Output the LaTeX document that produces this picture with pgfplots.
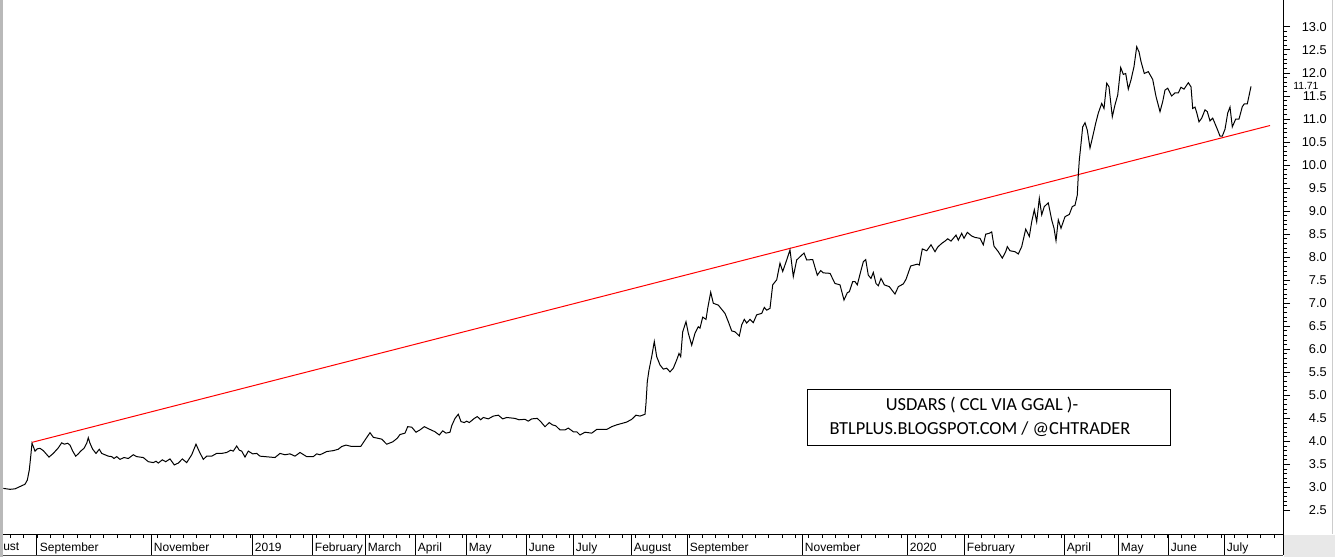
\documentclass[border=0pt]{standalone}
\usepackage{pgfplots}
\pgfplotsset{compat=1.18}
\usepackage{fontspec}
\setmainfont{Liberation Sans}
\newfontfamily\boxfont{Carlito}

\begin{document}
\begin{tikzpicture}
\begin{axis}[
  at={(0pt,0pt)}, anchor=south west,
  scale only axis, width=960pt, height=400.5pt,
  xmin=3, xmax=1283, ymin=1.9897, ymax=13.5857,
  axis x line*=bottom, axis y line*=right,
  axis line style={-, black, line width=0.75pt},
  tick align=outside,
  tick style={black, line width=0.75pt},
  major tick length=5.25pt, minor tick length=3pt,
  xtick={37,151,252,312,365,415,466,526,573,631,687,802,907,964,1064,1118,1168,1224},
  xticklabels={September,November,2019,February,March,April,May,June,July,August,September,November,2020,February,April,May,June,July},
  xtick style={/pgfplots/major tick length=15.75pt},
  minor xtick={10.7,24,...,1280},
  ytick={2.5,3,3.5,4,4.5,5,5.5,6,6.5,7,7.5,8,8.5,9,9.5,10,10.5,11,11.5,12,12.5,13},
  minor y tick num=4,
  yticklabel pos=right,
  /pgf/number format/.cd, fixed, fixed zerofill, precision=1, assume math mode=true, /pgfplots/.cd,
  xticklabel style={anchor=base west, inner sep=0pt, xshift=2pt, yshift=-8pt, font=\fontsize{9}{10}\selectfont},
  yticklabel style={anchor=east, inner sep=0pt, xshift=27.75pt, font=\fontsize{9.6}{11}\selectfont},
  clip=false,
]
\addplot[red, line width=0.75pt] coordinates {(32,3.98) (1270,10.86)};
\addplot[black, line width=0.75pt] coordinates {
(3.3,2.98) (10,2.96) (15,2.97) (20,3.02) (25,3.07) (27.3,3.16) (29.3,3.38) (30.7,3.67) (32,3.96) (33.3,3.89)
(35,3.79) (37.3,3.84) (40,3.85) (43.3,3.80) (49,3.66) (53.3,3.74) (58.3,3.86) (61.7,3.97) (64.3,3.94) (67.7,3.96)
(70,3.92) (72.7,3.79) (75.7,3.68) (78.3,3.73) (80.7,3.79) (84,3.85) (86.7,3.96) (88.3,4.08) (90,3.96) (92.7,3.83)
(96,3.74) (99.3,3.83) (101.7,3.74) (105,3.71) (108.3,3.68) (111.7,3.67) (114,3.63) (116.7,3.67) (120,3.61) (124,3.65)
(128.3,3.63) (133.3,3.71) (136.7,3.67) (143.3,3.65) (148.3,3.56) (153.3,3.54) (156,3.57) (158.3,3.53) (162.3,3.60) (165.7,3.56)
(170,3.62) (174.3,3.49) (178.3,3.53) (182.3,3.62) (186.7,3.54) (191.7,3.71) (196,3.94) (199.3,3.78) (203.3,3.61) (206.7,3.68)
(211.7,3.68) (216.7,3.74) (221.7,3.74) (226.7,3.76) (230.7,3.81) (233.3,3.79) (236.7,3.90) (239.3,3.81) (241.7,3.79) (245,3.66)
(248.3,3.79) (252.7,3.73) (256.7,3.74) (260,3.68) (265,3.67) (270,3.66) (275,3.65) (280,3.74) (285,3.71) (290,3.73)
(295,3.68) (300,3.76) (306.7,3.67) (313.3,3.67) (316.7,3.73) (320,3.71) (326.7,3.78) (333.3,3.80) (338.3,3.83) (341.7,3.89)
(346,3.92) (351.7,3.89) (360.7,3.89) (365,4.03) (370,4.19) (373.3,4.09) (381.7,4.05) (386.7,3.94) (392.7,3.99) (397.3,4.07)
(400,4.15) (405,4.18) (407.7,4.32) (411.7,4.31) (416,4.20) (420,4.25) (424.3,4.32) (430,4.26) (435,4.21) (439.3,4.14)
(442.7,4.23) (446,4.18) (450,4.20) (451.7,4.34) (455,4.50) (458.3,4.59) (461,4.43) (464.3,4.41) (466.7,4.44) (469.3,4.41)
(474.3,4.50) (477.3,4.54) (480.7,4.47) (483.3,4.52) (488.3,4.49) (493.3,4.55) (498.3,4.57) (502.7,4.49) (506.7,4.52) (515,4.50)
(519,4.47) (525,4.48) (528.3,4.44) (531.7,4.49) (537.3,4.50) (540.7,4.43) (545,4.32) (549.3,4.41) (552.3,4.36) (555.7,4.34)
(560,4.25) (565,4.25) (568.3,4.29) (573.3,4.21) (576.7,4.21) (580,4.14) (585,4.20) (591.7,4.18) (596.7,4.26) (606.7,4.26)
(611.7,4.32) (616.7,4.36) (621.7,4.39) (626.7,4.42) (631.7,4.48) (636,4.57) (640,4.55) (645,4.59) (646,4.83) (647.3,5.30)
(649,5.55) (651.7,5.84) (654.3,6.17) (656.7,5.84) (660,5.66) (663.3,5.57) (666.7,5.59) (670,5.51) (673.3,5.59) (676.7,5.77)
(679,5.91) (680.7,5.84) (682.7,6.38) (686,6.60) (688.3,6.35) (691.7,6.09) (695,6.35) (698.3,6.49) (700,6.46) (702.7,6.70)
(706,6.65) (707.7,6.89) (710.7,7.24) (713.3,7.00) (718.3,6.96) (725,6.78) (728.3,6.60) (731.7,6.40) (735,6.38) (739.3,6.29)
(741.7,6.53) (744.3,6.65) (746.7,6.57) (750,6.65) (753.3,6.58) (756.7,6.75) (761.7,6.78) (764.3,6.91) (766.7,6.85) (770,6.89)
(772.7,7.40) (776.7,7.51) (780,7.87) (782.7,7.69) (786.7,7.94) (790,8.16) (793.3,7.58) (796.7,7.94) (800,8.01) (804,8.09)
(806.7,7.94) (812.7,7.95) (817.3,7.61) (820.7,7.71) (823.3,7.66) (830,7.65) (835,7.43) (840,7.40) (844,7.07) (847.3,7.23)
(849.3,7.25) (852.7,7.47) (855,7.47) (857.3,7.40) (860.7,7.69) (863.3,7.90) (865.7,7.95) (868.3,7.61) (871,7.54) (873.3,7.67)
(876,7.43) (878.3,7.38) (881,7.54) (884.3,7.40) (889.3,7.36) (895,7.20) (898.3,7.36) (903.3,7.42) (906,7.52) (910.7,7.81)
(917.3,7.85) (919.3,7.83) (922.3,8.18) (926.7,8.14) (931,8.27) (935,8.12) (937.7,8.22) (941.7,8.30) (945,8.35) (947.7,8.40)
(951,8.35) (956,8.48) (958.3,8.37) (961.7,8.52) (964,8.41) (967.3,8.54) (971.7,8.46) (975,8.43) (980,8.41) (983.3,8.27)
(985.7,8.50) (989.3,8.52) (991.7,8.55) (994,8.24) (998.3,8.12) (1002.3,7.98) (1005.7,8.12) (1007.3,8.23) (1010,8.14) (1015,8.12)
(1018.3,8.07) (1021.7,8.23) (1025.7,8.61) (1029.3,8.45) (1031.7,8.77) (1034.3,9.03) (1036.7,8.77) (1039.3,9.28) (1041.7,8.92) (1044.3,9.10)
(1048.3,9.18) (1051.7,8.81) (1054,8.63) (1056,8.36) (1058.3,8.81) (1061,8.63) (1065,8.88) (1069.3,8.93) (1072.3,9.10) (1075,9.13)
(1077.3,9.35) (1078.3,9.79) (1079.3,10.11) (1080.7,10.40) (1082.7,10.83) (1085,10.92) (1087.3,10.76) (1090,10.37) (1092.7,10.62) (1095.7,10.91)
(1098.3,11.13) (1101.7,11.34) (1104,11.23) (1106.7,11.78) (1109,11.70) (1112.3,11.05) (1115,11.31) (1117.7,11.52) (1120.7,12.12) (1123.3,11.97)
(1125.7,11.99) (1128.3,11.65) (1131,11.85) (1134,12.14) (1136.7,12.57) (1139,12.46) (1141,12.25) (1144.3,11.99) (1148.3,12.03) (1152.7,11.86)
(1156,11.49) (1160,11.16) (1162.7,11.38) (1165,11.63) (1167.7,11.67) (1171.7,11.50) (1175,11.57) (1178.3,11.57) (1181,11.69) (1184,11.65)
(1188.3,11.79) (1191,11.70) (1192.7,11.23) (1195,11.26) (1196.7,11.14) (1199,10.94) (1201.7,11.02) (1205,11.20) (1207.3,11.16) (1210,10.96)
(1212.7,11.02) (1217.3,10.78) (1220,10.63) (1222.3,10.63) (1225,10.78) (1227.7,11.13) (1230,11.26) (1232.3,10.83) (1235.7,11.00) (1239,11.00)
(1242.3,11.27) (1244.3,11.33) (1247.3,11.33) (1251,11.71)
};
\node[anchor=west, inner sep=0pt, xshift=7.5pt, fill=white, font=\fontsize{7.8}{9}\selectfont] at (axis cs:1283,11.71) {11.71};
\end{axis}
\begin{scope}[shift={(-2.25pt,400.5pt)}, x=0.75pt, y=-0.75pt]
  \fill[gray!18] (1283.5,534.5) rectangle (1335,557);
  \draw[black!70, line width=0.75pt] (0,555) -- (1283,555);
  \draw[black, line width=0.75pt] (1283,534) -- (1283,555);
  \fill[gray!55] (0,0) rectangle (2.5,557);
  \draw[gray!40, line width=0.75pt] (1332.5,0) -- (1332.5,534);
  \node[anchor=base west, inner sep=0pt, font=\fontsize{9}{10}\selectfont] at (3,550.7) {ust};
  \draw[black, line width=0.75pt] (807,390) rectangle (1170,445);
  \node[anchor=base, inner sep=0pt, font=\boxfont\fontsize{13.8}{15}\selectfont] at (982,411) {USDARS ( CCL VIA GGAL )-};
  \node[anchor=base, inner sep=0pt, font=\boxfont\fontsize{13.8}{15}\selectfont] at (980,434.3) {BTLPLUS.BLOGSPOT.COM / @CHTRADER};
  \pgfresetboundingbox
  \path[use as bounding box] (0,0) rectangle (1335,557);
\end{scope}
\end{tikzpicture}
\end{document}
